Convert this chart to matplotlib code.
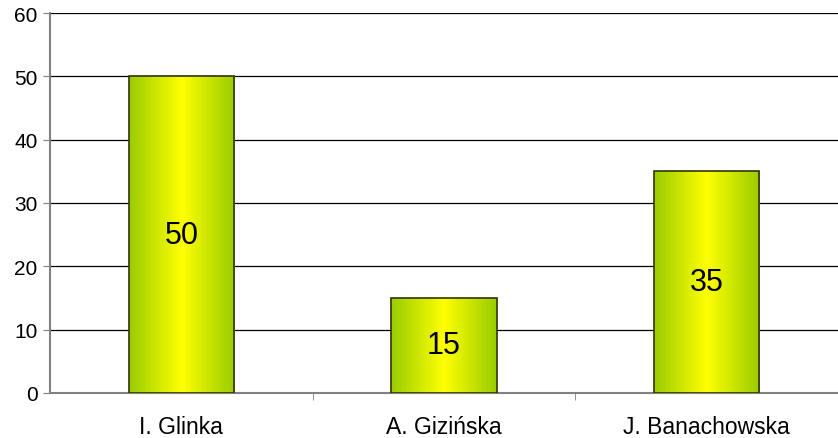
import matplotlib

matplotlib.use("Agg")
import matplotlib.pyplot as plt
import numpy as np
from matplotlib.colors import LinearSegmentedColormap

categories = ["I. Glinka", "A. Gizińska", "J. Banachowska"]
values = [50, 15, 35]
yticks = [0, 10, 20, 30, 40, 50, 60]

plt.rcParams["font.family"] = ["Liberation Sans", "DejaVu Sans"]

fig = plt.figure(figsize=(8.38, 4.39), dpi=100)
ax = fig.add_axes([50 / 838, 1 - 394 / 439, 788 / 838, 380 / 439])

grad = LinearSegmentedColormap.from_list("bar", ["#99cc00", "#ffff00", "#99cc00"])
gradient = np.linspace(0, 1, 256).reshape(1, -1)

width = 0.4
x = np.arange(len(categories))
for xi, v in zip(x, values):
    ax.imshow(gradient, cmap=grad, aspect="auto", extent=(xi - width / 2, xi + width / 2, 0, v),
              interpolation="bicubic", zorder=3)
bars = ax.bar(x, values, width=width, facecolor="none", edgecolor="#333300", linewidth=1.2, zorder=4)
for xi, v in zip(x, values):
    ax.text(xi, v / 2, str(v), ha="center", va="center", fontsize=22, color="black", zorder=5)

ax.set_xlim(-0.5, len(categories) - 0.5)
ax.set_ylim(0, 60)
ax.set_yticks(yticks)
ax.set_yticklabels([str(t) for t in yticks], fontsize=15)
ax.yaxis.grid(True, color="black", linewidth=0.9, zorder=0)
ax.set_axisbelow(True)

ax.set_xticks(x)
ax.set_xticklabels(categories, fontsize=16.5)
ax.tick_params(axis="x", length=0, pad=16)
ax.set_xticks([0.5, 1.5], minor=True)
ax.tick_params(axis="x", which="minor", length=5, color="#808080")
ax.tick_params(axis="y", length=5, color="#808080", pad=4)

for side in ["top", "right"]:
    ax.spines[side].set_visible(False)
for side in ["left", "bottom"]:
    ax.spines[side].set_color("#808080")
    ax.spines[side].set_linewidth(1.5)

fig.savefig("out.png", dpi=100)
